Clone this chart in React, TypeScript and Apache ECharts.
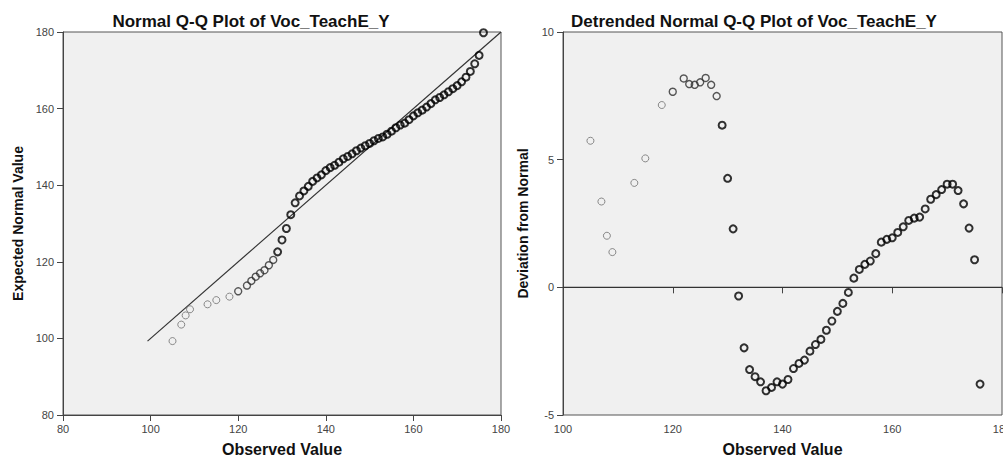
import React, { useEffect, useRef } from "react";
import * as echarts from "echarts";

// Observed values (x) shared by both plots
const observed = [
  105, 107, 108, 109, 113, 115, 118, 120, 122, 123, 124, 125, 126, 127, 128,
  129, 130, 131, 132, 133, 134, 135, 136, 137, 138, 139, 140, 141, 142, 143,
  144, 145, 146, 147, 148, 149, 150, 151, 152, 153, 154, 155, 156, 157, 158,
  159, 160, 161, 162, 163, 164, 165, 166, 167, 168, 169, 170, 171, 172, 173,
  174, 175, 176,
];

// Expected normal value (left plot, y)
const expected = [
  99.3, 103.6, 106.0, 107.6, 108.9, 110.0, 110.9, 112.3, 113.8, 115.0, 116.1,
  117.0, 117.8, 119.1, 120.5, 122.6, 125.7, 128.7, 132.3, 135.4, 137.2, 138.5,
  139.7, 141.0, 141.9, 142.7, 143.8, 144.6, 145.2, 146.0, 146.9, 147.5, 148.2,
  149.0, 149.7, 150.3, 150.9, 151.6, 152.2, 152.6, 153.3, 154.1, 155.0, 155.7,
  156.2, 157.1, 158.1, 158.9, 159.6, 160.4, 161.3, 162.3, 162.9, 163.6, 164.4,
  165.2, 166.0, 167.0, 168.2, 169.7, 171.7, 173.9, 179.8,
];

// Deviation from normal (right plot, y)
const deviation = [
  5.74, 3.36, 2.02, 1.38, 4.09, 5.05, 7.14, 7.66, 8.18, 7.96, 7.93, 8.03, 8.2,
  7.93, 7.49, 6.35, 4.27, 2.29, -0.34, -2.37, -3.22, -3.5, -3.7, -4.05, -3.92,
  -3.7, -3.79, -3.61, -3.18, -2.98, -2.85, -2.5, -2.24, -2.04, -1.68, -1.32,
  -0.94, -0.63, -0.2, 0.36, 0.7, 0.9, 1.03, 1.32, 1.77, 1.88, 1.94, 2.15, 2.37,
  2.62, 2.71, 2.75, 3.07, 3.45, 3.63, 3.83, 4.04, 4.04, 3.79, 3.27, 2.32, 1.08,
  -3.79,
];

// Reference lines
const qqLine = [
  [99.3, 99.3],
  [180, 180],
];
const zeroLine = [
  [100, 0],
  [180, 0],
];

const leftXTicks = { min: 80, max: 180, interval: 20 };
const leftYTicks = { min: 80, max: 180, interval: 20 };
const rightXTicks = { min: 100, max: 180, interval: 20 };
const rightYTicks = { min: -5, max: 10, interval: 5 };

const titles = [
  "Normal Q-Q Plot of Voc_TeachE_Y",
  "Detrended Normal Q-Q Plot of Voc_TeachE_Y",
];

const FONT = "'Liberation Sans', Arial, sans-serif";

function App() {
  const ref = useRef<HTMLDivElement>(null);

  useEffect(() => {
    if (!ref.current) return;
    const chart = echarts.init(ref.current, undefined, { renderer: "svg" });

    const tiers = [
      { test: (x: number) => x <= 118, color: "#6e6e6e", width: 1 },
      { test: (x: number) => x > 118 && x <= 128, color: "#2e2e2e", width: 1.4 },
      { test: (x: number) => x > 128, color: "#000000", width: 2 },
    ];

    const makeScatter = (ys: number[], axisIndex: number) =>
      tiers.map((t) => ({
        type: "scatter",
        xAxisIndex: axisIndex,
        yAxisIndex: axisIndex,
        symbol: "circle",
        symbolSize: 7,
        z: 3,
        itemStyle: {
          color: "rgba(0,0,0,0)",
          borderColor: t.color,
          borderWidth: t.width,
        },
        data: observed
          .map((x, i) => [x, ys[i]])
          .filter((p) => t.test(p[0])),
        silent: true,
      }));

    const axisCommon = {
      axisLine: { show: true, lineStyle: { color: "#444", width: 1 } },
      axisTick: { show: true, length: 6, lineStyle: { color: "#444" } },
      splitLine: { show: false },
      nameTextStyle: {
        fontFamily: FONT,
        fontWeight: "bold",
        color: "#111",
      },
    };

    const xLabel = {
      fontFamily: FONT,
      fontSize: 11,
      color: "#444",
      margin: 8,
      alignMinLabel: "center",
      alignMaxLabel: "center",
    };
    const yLabel = {
      fontFamily: FONT,
      fontSize: 11,
      color: "#444",
      margin: 9,
    };

    const gridCommon = {
      top: 32,
      height: 383,
      show: true,
      backgroundColor: "#f0f0f0",
      borderColor: "#555",
      borderWidth: 1,
      containLabel: false,
      outerBoundsMode: "none",
    };

    chart.setOption({
      animation: false,
      backgroundColor: "#ffffff",
      grid: [
        { ...gridCommon, left: 63, width: 438 },
        { ...gridCommon, left: 563, width: 439 },
      ],
      xAxis: [
        {
          ...axisCommon,
          gridIndex: 0,
          type: "value",
          ...leftXTicks,
          name: "Observed Value",
          nameLocation: "middle",
          nameGap: 26,
          nameTextStyle: { ...axisCommon.nameTextStyle, fontSize: 16 },
          axisLabel: xLabel,
        },
        {
          ...axisCommon,
          gridIndex: 1,
          type: "value",
          ...rightXTicks,
          name: "Observed Value",
          nameLocation: "middle",
          nameGap: 26,
          nameTextStyle: { ...axisCommon.nameTextStyle, fontSize: 16 },
          axisLabel: xLabel,
        },
      ],
      yAxis: [
        {
          ...axisCommon,
          gridIndex: 0,
          type: "value",
          ...leftYTicks,
          name: "Expected Normal Value",
          nameLocation: "middle",
          nameGap: 38,
          nameTextStyle: { ...axisCommon.nameTextStyle, fontSize: 14 },
          axisLabel: yLabel,
        },
        {
          ...axisCommon,
          gridIndex: 1,
          type: "value",
          ...rightYTicks,
          name: "Deviation from Normal",
          nameLocation: "middle",
          nameGap: 33,
          nameTextStyle: { ...axisCommon.nameTextStyle, fontSize: 14 },
          axisLabel: yLabel,
        },
      ],
      graphic: [
        {
          type: "text",
          x: 251,
          y: 21,
          style: {
            text: titles[0],
            font: `bold 17px ${FONT}`,
            fill: "#111",
            textAlign: "center",
            textVerticalAlign: "middle",
          },
        },
        {
          type: "text",
          x: 754,
          y: 21,
          style: {
            text: titles[1],
            font: `bold 17px ${FONT}`,
            fill: "#111",
            textAlign: "center",
            textVerticalAlign: "middle",
          },
        },
      ],
      series: [
        {
          type: "line",
          xAxisIndex: 0,
          yAxisIndex: 0,
          data: qqLine,
          symbol: "none",
          z: 2,
          lineStyle: { color: "#333", width: 1.2 },
          silent: true,
        },
        {
          type: "line",
          xAxisIndex: 1,
          yAxisIndex: 1,
          data: zeroLine,
          symbol: "none",
          z: 2,
          lineStyle: { color: "#333", width: 1.2 },
          silent: true,
        },
        ...makeScatter(expected, 0),
        ...makeScatter(deviation, 1),
      ],
    });

    return () => {
      chart.dispose();
    };
  }, []);

  return (
    <div
      ref={ref}
      style={{
        position: "absolute",
        left: 0,
        top: 0,
        width: 1003,
        height: 457,
        overflow: "hidden",
      }}
    />
  );
}

export default App;
